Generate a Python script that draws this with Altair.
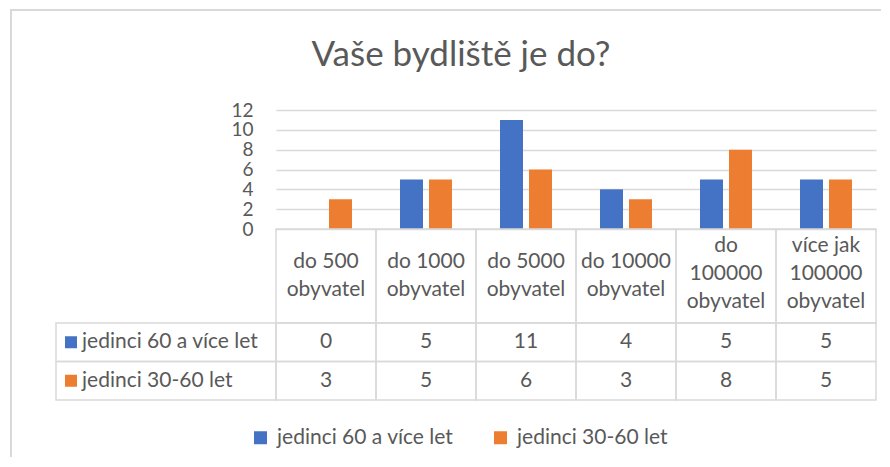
import altair as alt
import pandas as pd

# ---- data ----
title_text = "Vaše bydliště je do?"
categories = [
    "do 500\nobyvatel",
    "do 1000\nobyvatel",
    "do 5000\nobyvatel",
    "do 10000\nobyvatel",
    "do\n100000\nobyvatel",
    "více jak\n100000\nobyvatel",
]
series = ["jedinci 60 a více let", "jedinci 30-60 let"]
values_60 = [0, 5, 11, 4, 5, 5]
values_30 = [3, 5, 6, 3, 8, 5]
y_ticks = [0, 2, 4, 6, 8, 10, 12]

colors = ["#4472C4", "#ED7D31"]
FONT = "Lato"
GRAY = "#595959"
LINE = "#D9D9D9"
FS = 21

rows = []
for s, vals in zip(series, [values_60, values_30]):
    for c, v in zip(categories, vals):
        rows.append({"category": c, "series": s, "value": v})
df = pd.DataFrame(rows)
cat_df = pd.DataFrame({"category": categories})
ser_df = pd.DataFrame({"series": series})
one = pd.DataFrame({"t": [title_text]})

W = 600
H_BARS = 119
H_HEAD = 94
H_ROWS = 77

x_cat = alt.X("category:N", sort=categories,
              scale=alt.Scale(domain=categories, paddingInner=0, paddingOuter=0),
              axis=None)
color_enc = alt.Color(
    "series:N",
    scale=alt.Scale(domain=series, range=colors),
    legend=alt.Legend(
        title=None, orient="none", legendX=-26, legendY=317,
        direction="horizontal", columns=2, symbolType="square",
        symbolSize=169, symbolStrokeWidth=0, labelFont=FONT,
        labelFontSize=FS, labelColor=GRAY, columnPadding=36, labelOffset=6,
        labelLimit=0,
    ),
)

# ---- top: bars ----
bars = alt.Chart(df).mark_bar().encode(
    x=x_cat,
    xOffset=alt.XOffset("series:N", sort=series,
                        scale=alt.Scale(domain=series, paddingInner=0.207, paddingOuter=0.828)),
    y=alt.Y("value:Q", scale=alt.Scale(domain=[0, 12]),
            axis=alt.Axis(values=y_ticks, title=None, domain=False, ticks=False,
                          labelFont=FONT, labelFontSize=19, labelColor=GRAY,
                          labelOverlap=False, labelBound=False,
                          labelPadding=23, gridColor=LINE, gridWidth=1.5)),
    color=color_enc,
)
border_left = alt.Chart(one).mark_rule(color=LINE, strokeWidth=2).encode(
    x=alt.value(-265), y=alt.value(-100), y2=alt.value(347))
border_top = alt.Chart(one).mark_rule(color=LINE, strokeWidth=2).encode(
    x=alt.value(-266), x2=alt.value(605), y=alt.value(-100))
title = alt.Chart(one).mark_text(font=FONT, fontSize=35, color=GRAY,
                                 baseline="alphabetic").encode(
    x=alt.value(185), y=alt.value(-44), text="t:N")
top = alt.layer(border_left, border_top, title, bars).properties(width=W, height=H_BARS)

# ---- header row of table ----
head_rect = alt.Chart(cat_df).mark_rect(fillOpacity=0, stroke=LINE, strokeWidth=1.5).encode(
    x=x_cat, y=alt.value(0), y2=alt.value(H_HEAD))
head_base = alt.Chart(cat_df).transform_calculate(
    nlines="length(split(datum.category, '\\n'))"
)
head_text2 = head_base.transform_filter("datum.nlines == 2").mark_text(
    font=FONT, fontSize=FS, color=GRAY, lineBreak="\n", lineHeight=28,
    baseline="middle").encode(x=x_cat, y=alt.value(33), text="category:N")
head_text3 = head_base.transform_filter("datum.nlines == 3").mark_text(
    font=FONT, fontSize=FS, color=GRAY, lineBreak="\n", lineHeight=28,
    baseline="middle").encode(x=x_cat, y=alt.value(17), text="category:N")
header = alt.layer(head_rect, head_text2, head_text3).properties(width=W, height=H_HEAD)

# ---- data rows of table ----
y_ser = alt.Y("series:N", sort=series,
              scale=alt.Scale(domain=series, paddingInner=0, paddingOuter=0), axis=None)
cells = alt.Chart(df).mark_rect(fillOpacity=0, stroke=LINE, strokeWidth=1.5).encode(
    x=x_cat, y=y_ser)
vals = alt.Chart(df).mark_text(font=FONT, fontSize=FS, color=GRAY, baseline="middle").encode(
    x=x_cat, y=y_ser, text="value:Q")
lab_cells = alt.Chart(ser_df).mark_rect(fillOpacity=0, stroke=LINE, strokeWidth=1.5).encode(
    x=alt.value(-220), x2=alt.value(0), y=y_ser)
lab_sq = alt.Chart(ser_df).mark_point(shape="square", filled=True, size=144, opacity=1).encode(
    x=alt.value(-205), y=y_ser, color=color_enc)
lab_text = alt.Chart(ser_df).mark_text(font=FONT, fontSize=FS, color=GRAY,
                                       align="left", baseline="middle").encode(
    x=alt.value(-194), y=y_ser, text="series:N")
table_rows = alt.layer(cells, lab_cells, vals, lab_sq, lab_text).properties(width=W, height=H_ROWS)

chart = alt.vconcat(top, header, table_rows, spacing=0, bounds="flush").properties(
    padding={"left": 1, "top": 1, "right": 0, "bottom": 0}
).configure_view(stroke=None)

chart.save("out.html", embed_options={"renderer": "svg", "actions": False})
